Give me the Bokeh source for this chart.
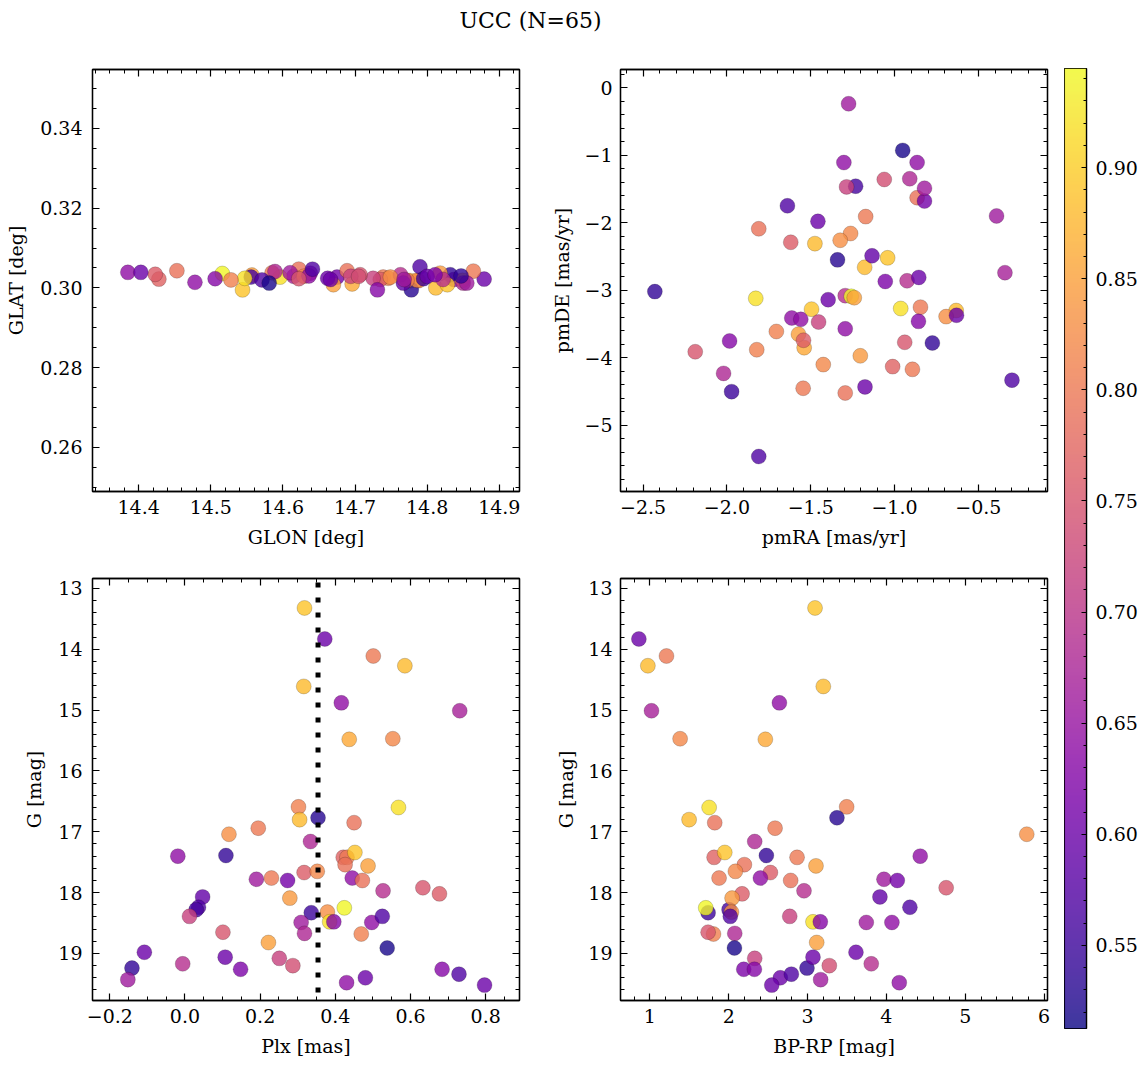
import numpy as np
from bokeh.plotting import figure
from bokeh.models import (ColumnDataSource, LinearColorMapper, LinearAxis, Range1d,
                          SingleIntervalTicker, CustomJSTickFormatter, Span, Label)
from bokeh.layouts import row, column
from bokeh.palettes import Plasma256
from bokeh.transform import transform
from bokeh.embed import file_html
from bokeh.resources import INLINE

title_text = "UCC (N=65)"

glon = [14.544, 14.879, 14.739, 14.812, 14.777, 14.837, 14.615, 14.696, 14.788, 14.746,
        14.596, 14.849, 14.778, 14.453, 14.786, 14.772, 14.850, 14.638, 14.832, 14.428,
        14.864, 14.828, 14.622, 14.557, 14.610, 14.585, 14.675, 14.735, 14.629, 14.636,
        14.689, 14.763, 14.622, 14.423, 14.767, 14.790, 14.556, 14.725, 14.818, 14.795,
        14.749, 14.516, 14.547, 14.506, 14.855, 14.589, 14.385, 14.571, 14.528, 14.707,
        14.670, 14.581, 14.800, 14.847, 14.768, 14.822, 14.662, 14.811, 14.694, 14.705,
        14.478, 14.666, 14.731, 14.641, 14.403]

glat = [0.2995, 0.3022, 0.3027, 0.3000, 0.3018, 0.3021, 0.3029, 0.3010, 0.3018, 0.3024,
        0.3027, 0.3019, 0.2995, 0.3043, 0.3019, 0.3019, 0.3012, 0.3037, 0.3033, 0.3022,
        0.3042, 0.3008, 0.3047, 0.3032, 0.3038, 0.3038, 0.3027, 0.3021, 0.3029, 0.3030,
        0.3043, 0.3033, 0.3023, 0.3034, 0.3012, 0.3053, 0.3027, 0.3024, 0.3037, 0.3023,
        0.3027, 0.3036, 0.3024, 0.3023, 0.3012, 0.3041, 0.3039, 0.3020, 0.3020, 0.3033,
        0.3008, 0.3012, 0.3029, 0.3030, 0.3021, 0.3021, 0.3024, 0.3033, 0.3029, 0.3029,
        0.3014, 0.3021, 0.2995, 0.3047, 0.3039]

pmra = [-1.041, -1.457, -0.893, -1.475, -1.178, -1.613, -0.341, -1.539, -1.425, -1.705,
        -0.963, -0.632, -1.340, -1.294, -0.692, -1.545, -2.020, -1.559, -0.774, -1.011,
        -1.172, -1.495, -0.865, -1.573, -1.274, -0.845, -0.821, -1.619, -1.262, -1.294,
        -1.810, -1.294, -2.189, -1.543, -1.134, -0.299, -1.232, -1.286, -1.204, -1.972,
        -1.324, -1.258, -1.828, -0.857, -0.821, -0.909, -1.302, -1.810, -1.822, -0.939,
        -1.240, -0.951, -1.176, -2.430, -0.391, -0.925, -1.396, -1.055, -1.453, -1.061,
        -0.865, -0.855, -1.984, -1.639, -0.630]

pmde = [-2.52, -1.98, -4.17, -2.31, -2.66, -3.41, -2.74, -3.85, -4.10, -3.61,
        -3.27, -3.30, -2.55, -4.52, -3.39, -4.45, -4.23, -3.43, -3.78, -4.13,
        -1.91, -3.28, -1.63, -3.65, -0.24, -3.25, -1.68, -2.29, -2.16, -3.57,
        -2.09, -3.08, -3.91, -3.74, -2.49, -4.33, -1.46, -1.47, -3.97, -4.50,
        -2.26, -3.09, -3.12, -3.46, -1.49, -1.35, -1.11, -5.46, -3.88, -3.77,
        -3.11, -0.93, -4.43, -3.02, -1.90, -2.86, -3.14, -2.87, -3.47, -1.36,
        -1.11, -2.81, -3.75, -1.75, -3.37]

plx = [0.318, 0.372, 0.501, 0.585, 0.316, 0.416, 0.731, 0.437, 0.553, 0.302,
       0.568, 0.305, 0.354, 0.450, 0.117, 0.195, 0.334, -0.019, 0.109, 0.421,
       0.431, 0.452, 0.426, 0.487, 0.190, 0.230, 0.273, 0.317, 0.352, 0.445,
       0.472, 0.527, 0.633, 0.677, 0.047, 0.036, 0.030, 0.012, 0.279, 0.336,
       0.379, 0.424, 0.385, 0.396, 0.309, 0.318, 0.497, 0.525, 0.469, 0.101,
       0.222, 0.538, -0.108, -0.141, -0.152, -0.006, 0.107, 0.148, 0.251, 0.287,
       0.430, 0.480, 0.684, 0.729, 0.797]

gmag = [13.32, 13.83, 14.11, 14.27, 14.61, 14.88, 15.01, 15.48, 15.47, 16.59,
        16.60, 16.80, 16.77, 16.85, 17.04, 16.94, 17.16, 17.40, 17.39, 17.42,
        17.42, 17.34, 17.54, 17.56, 17.78, 17.76, 17.80, 17.67, 17.65, 17.76,
        17.80, 17.97, 17.92, 18.02, 18.07, 18.24, 18.28, 18.39, 18.09, 18.33,
        18.32, 18.25, 18.48, 18.48, 18.49, 18.67, 18.49, 18.39, 18.68, 18.65,
        18.82, 18.91, 18.98, 19.24, 19.43, 19.17, 19.06, 19.26, 19.08, 19.20,
        19.48, 19.40, 19.26, 19.34, 19.52]

bprp = [3.095, 0.861, 1.211, 0.975, 3.200, 2.643, 1.021, 2.465, 1.384, 3.496,
        1.752, 1.498, 3.373, 1.823, 5.780, 2.588, 2.330, 4.429, 2.478, 1.815,
        2.867, 1.950, 2.199, 3.107, 3.969, 1.878, 4.138, 2.529, 2.085, 2.402,
        2.786, 2.955, 4.758, 2.170, 3.918, 4.298, 2.005, 2.774, 2.043, 1.739,
        2.035, 1.709, 3.069, 3.162, 3.745, 2.077, 4.070, 2.020, 1.807, 1.739,
        3.116, 2.073, 3.614, 2.993, 3.166, 3.808, 3.069, 2.191, 2.330, 3.276,
        4.163, 2.655, 2.326, 2.795, 2.546]

prob = [0.89, 0.60, 0.80, 0.88, 0.88, 0.64, 0.67, 0.86, 0.82, 0.81,
        0.92, 0.88, 0.53, 0.79, 0.83, 0.80, 0.68, 0.64, 0.54, 0.77,
        0.80, 0.89, 0.79, 0.85, 0.66, 0.80, 0.61, 0.76, 0.82, 0.64,
        0.79, 0.69, 0.75, 0.76, 0.59, 0.57, 0.56, 0.72, 0.84, 0.55,
        0.83, 0.94, 0.92, 0.63, 0.66, 0.68, 0.64, 0.57, 0.81, 0.75,
        0.85, 0.52, 0.60, 0.54, 0.66, 0.69, 0.60, 0.62, 0.72, 0.74,
        0.64, 0.60, 0.63, 0.57, 0.60]

prob_low, prob_high = 0.5126, 0.9446
plx_line = 0.354

FONT = "DejaVu Serif"
FS = "19px"

src = ColumnDataSource(dict(glon=glon, glat=glat, pmra=pmra, pmde=pmde, plx=plx,
                            g=gmag, bprp=bprp, prob=prob))
mapper = LinearColorMapper(palette=Plasma256, low=prob_low, high=prob_high)


def tick_fmt(dec):
    return CustomJSTickFormatter(args=dict(d=dec), code="""
        const v = Math.abs(tick) < 1e-12 ? 0 : tick;
        return v.toFixed(d).replace('-', '\u2212');
    """)


def blank_fmt():
    return CustomJSTickFormatter(code="return '';")


def style_axis(ax, interval, nminor, fmt, label=None, standoff=8, label_standoff=10,
               font_size=FS):
    ax.ticker = SingleIntervalTicker(interval=interval, num_minor_ticks=nminor)
    ax.formatter = fmt
    ax.major_tick_in = 7
    ax.major_tick_out = 0
    ax.minor_tick_in = 4
    ax.minor_tick_out = 0
    ax.major_tick_line_color = "black"
    ax.minor_tick_line_color = "black"
    ax.major_tick_line_width = 1.2
    ax.minor_tick_line_width = 1
    ax.axis_line_color = "black"
    ax.axis_line_width = 1.3
    ax.major_label_text_font = FONT
    ax.major_label_text_font_size = font_size
    ax.major_label_text_color = "black"
    ax.major_label_standoff = standoff
    if label:
        ax.axis_label = label
        ax.axis_label_text_font = FONT
        ax.axis_label_text_font_size = FS
        ax.axis_label_text_font_style = "normal"
        ax.axis_label_text_color = "black"
        ax.axis_label_standoff = label_standoff


def panel(xcol, ycol, xr, yr, borders, xtick, ytick, xdec, ydec, xlabel, ylabel,
          ystand=(10, 10)):
    left, right, top, bottom = borders
    p = figure(frame_width=427, frame_height=422,
               x_range=Range1d(*xr), y_range=Range1d(*yr),
               min_border_left=left, min_border_right=right,
               min_border_top=top, min_border_bottom=bottom,
               toolbar_location=None, output_backend="svg",
               background_fill_color="white", border_fill_color="white")
    p.grid.visible = False
    p.outline_line_color = "black"
    p.outline_line_width = 1.3
    style_axis(p.xaxis[0], xtick[0], xtick[1], tick_fmt(xdec), xlabel, 8, 9)
    style_axis(p.yaxis[0], ytick[0], ytick[1], tick_fmt(ydec), ylabel, ystand[0], ystand[1])
    top_ax = LinearAxis()
    style_axis(top_ax, xtick[0], xtick[1], blank_fmt(), None, 0, font_size="0px")
    p.add_layout(top_ax, "above")
    right_ax = LinearAxis()
    style_axis(right_ax, ytick[0], ytick[1], blank_fmt(), None, 0, font_size="0px")
    p.add_layout(right_ax, "right")
    p.scatter(xcol, ycol, source=src, size=15,
              fill_color=transform("prob", mapper), fill_alpha=0.8,
              line_color="black", line_alpha=0.3, line_width=0.6)
    return p


p_tl = panel("glon", "glat", (14.336, 14.928), (0.2489, 0.3548), (92, 26, 19, 60),
             (0.1, 5), (0.02, 4), 1, 2, "GLON [deg]", "GLAT [deg]", (10, 10))
p_tr = panel("pmra", "pmde", (-2.635, -0.087), (-5.978, 0.267), (75, 17, 19, 60),
             (0.5, 5), (1, 5), 1, 0, "pmRA [mas/yr]", "pmDE [mas/yr]", (8, 8))
p_bl = panel("plx", "g", (-0.246, 0.890), (19.773, 12.836), (92, 26, 27, 60),
             (0.2, 4), (1, 5), 1, 0, "Plx [mas]", "G [mag]", (10, 10))
p_br = panel("bprp", "g", (0.628, 6.043), (19.773, 12.836), (75, 17, 27, 60),
             (1, 5), (1, 5), 0, 0, "BP-RP [mag]", "G [mag]", (8, 8))

p_bl.add_layout(Span(location=plx_line, dimension="height", line_color="black",
                     line_width=5, line_dash="5 10", line_dash_offset=11))

# colour bar
cb = figure(frame_width=22, frame_height=960, x_range=Range1d(0, 1),
            y_range=Range1d(prob_low, prob_high),
            min_border_left=0, min_border_right=62, min_border_top=18, min_border_bottom=32,
            x_axis_location=None, y_axis_location="right",
            toolbar_location=None, output_backend="svg")
cb.grid.visible = False
cb.outline_line_color = "black"
cb.outline_line_width = 1.2
grad = np.linspace(prob_low, prob_high, 256).reshape(256, 1)
cb.image(image=[grad], x=0, y=prob_low, dw=1, dh=prob_high - prob_low,
         color_mapper=mapper, global_alpha=0.8)
style_axis(cb.yaxis[0], 0.05, 5, tick_fmt(2), None, 9)
cb.yaxis[0].major_tick_in = 5
cb.yaxis[0].minor_tick_in = 3

# title
tf = figure(width=1148, height=50, x_range=Range1d(0, 1148), y_range=Range1d(0, 50),
            min_border=0, toolbar_location=None, output_backend="svg",
            x_axis_location=None, y_axis_location=None)
tf.grid.visible = False
tf.outline_line_color = None
tf.add_layout(Label(x=530, y=30, text=title_text, text_align="center", text_baseline="middle",
                    text_font=FONT, text_font_size="22px", text_color="black"))

layout = column(tf, row(column(row(p_tl, p_tr), row(p_bl, p_br)), cb))

open("out.html", "w").write(file_html(layout, INLINE))
